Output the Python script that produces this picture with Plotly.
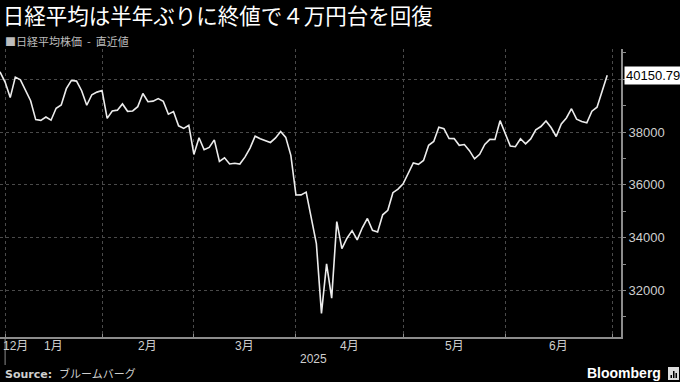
import plotly.graph_objects as go

# ---- data: Nikkei 225 closes (trading days) ----
dates = [
    "2024-12-27", "2024-12-30",
    "2025-01-06", "2025-01-07", "2025-01-08", "2025-01-09", "2025-01-10", "2025-01-14", "2025-01-15",
    "2025-01-16", "2025-01-17", "2025-01-20", "2025-01-21", "2025-01-22", "2025-01-23", "2025-01-24",
    "2025-01-27", "2025-01-28", "2025-01-29", "2025-01-30", "2025-01-31",
    "2025-02-03", "2025-02-04", "2025-02-05", "2025-02-06", "2025-02-07", "2025-02-10", "2025-02-12",
    "2025-02-13", "2025-02-14", "2025-02-17", "2025-02-18", "2025-02-19", "2025-02-20", "2025-02-21",
    "2025-02-25", "2025-02-26", "2025-02-27", "2025-02-28",
    "2025-03-03", "2025-03-04", "2025-03-05", "2025-03-06", "2025-03-07", "2025-03-10", "2025-03-11",
    "2025-03-12", "2025-03-13", "2025-03-14", "2025-03-17", "2025-03-18", "2025-03-19", "2025-03-21",
    "2025-03-24", "2025-03-25", "2025-03-26", "2025-03-27", "2025-03-28", "2025-03-31",
    "2025-04-01", "2025-04-02", "2025-04-03", "2025-04-04", "2025-04-07", "2025-04-08", "2025-04-09",
    "2025-04-10", "2025-04-11", "2025-04-14", "2025-04-15", "2025-04-16", "2025-04-17", "2025-04-18",
    "2025-04-21", "2025-04-22", "2025-04-23", "2025-04-24", "2025-04-25", "2025-04-28", "2025-04-30",
    "2025-05-01", "2025-05-02", "2025-05-07", "2025-05-08", "2025-05-09", "2025-05-12", "2025-05-13",
    "2025-05-14", "2025-05-15", "2025-05-16", "2025-05-19", "2025-05-20", "2025-05-21", "2025-05-22",
    "2025-05-23", "2025-05-26", "2025-05-27", "2025-05-28", "2025-05-29", "2025-05-30",
    "2025-06-02", "2025-06-03", "2025-06-04", "2025-06-05", "2025-06-06", "2025-06-09", "2025-06-10",
    "2025-06-11", "2025-06-12", "2025-06-13", "2025-06-16", "2025-06-17", "2025-06-18", "2025-06-19",
    "2025-06-20", "2025-06-23", "2025-06-24", "2025-06-25", "2025-06-26", "2025-06-27",
]
nikkei = [
    40281, 39895,
    39307, 40083, 39981, 39605, 39190, 38474, 38445,
    38573, 38451, 38903, 39028, 39646, 39959, 39932,
    39566, 39017, 39415, 39514, 39572,
    38520, 38798, 38831, 39067, 38787, 38801, 38964,
    39461, 39149, 39174, 39270, 39165, 38678, 38777,
    38238, 38142, 38256, 37156,
    37785, 37331, 37418, 37705, 36887, 37028, 36793,
    36819, 36790, 37053, 37397, 37845, 37752, 37677,
    37608, 37781, 38027, 37800, 37120, 35618,
    35624, 35726, 34736, 33781, 31137, 33013, 31714,
    34609, 33586, 33982, 34268, 33920, 34378, 34730,
    34280, 34221, 34869, 35039, 35706, 35840, 36045,
    36452, 36831, 36780, 36929, 37503, 37644, 38183,
    38128, 37756, 37754, 37499, 37529, 37299, 36986,
    37160, 37532, 37724, 37722, 38433, 37965,
    37471, 37447, 37747, 37554, 37742, 38089, 38212,
    38421, 38173, 37834, 38311, 38537, 38885, 38488,
    38403, 38354, 38791, 38942, 39585, 40150.79,
]
last_label = "40150.79"
# month-end gridline sessions (last trading day of each month; Jun 30 is the next session)
month_end_sessions = ["2024-12-30", "2025-01-31", "2025-02-28", "2025-03-31",
                      "2025-04-30", "2025-05-30", "2025-06-30"]
month_labels = ["1月", "2月", "3月", "4月", "5月", "6月"]
first_month_label = "12月"
year_label = "2025"
y_ticks = [32000, 34000, 36000, 38000, 40000]
y_ticktext = ["32000", "34000", "36000", "38000", ""]   # 40000 sits under the last-value label
y_minor = [31000, 33000, 35000, 37000, 39000, 41000]

title_text = "日経平均は半年ぶりに終値で４万円台を回復"
legend_text = "■日経平均株価  -  直近値"
source_text = "<b>Source:</b>  ブルームバーグ"

# ---- layout geometry ----
W, H = 680, 382
ML, MR, MT, MB = 0, 59, 49, 45
PW, PH = W - ML - MR, H - MT - MB
X_MAX = 121.7
Y_RANGE = [30241, 41147]

idx = list(range(len(dates)))
def session_index(d):
    return dates.index(d) if d in dates else len(dates)
grid_idx = [session_index(d) for d in month_end_sessions]

GRID = "#4a4a4a"
AXIS = "#8c8c8c"
TXT = "#cfcfcf"
FONT = "Liberation Sans, Noto Sans CJK JP, sans-serif"

fig = go.Figure()
fig.add_trace(go.Scatter(x=idx, y=nikkei, mode="lines",
                         line=dict(color="#ececec", width=1.6), hoverinfo="skip",
                         showlegend=False))

fig.update_layout(
    width=W, height=H, margin=dict(l=ML, r=MR, t=MT, b=MB),
    paper_bgcolor="black", plot_bgcolor="black",
    font=dict(family=FONT, color=TXT, size=12),
    title=dict(text=title_text, x=0.004, xanchor="left", y=1 - 16 / H, yanchor="middle",
               font=dict(family="Noto Sans CJK JP", size=21.5, color="white")),
    xaxis=dict(range=[0, X_MAX], tickvals=grid_idx, ticktext=[""] * len(grid_idx),
               showgrid=True, gridcolor=GRID, griddash="dot", gridwidth=1,
               showline=True, linecolor=AXIS, linewidth=2,
               ticks="inside", ticklen=3, tickcolor=AXIS, zeroline=False, fixedrange=True),
    yaxis=dict(range=Y_RANGE, side="right", tickvals=y_ticks, ticktext=y_ticktext,
               showgrid=True, gridcolor=GRID, griddash="dot", gridwidth=1,
               showline=True, linecolor=AXIS, linewidth=2,
               ticks="outside", ticklen=3, tickcolor=AXIS,
               minor=dict(tickvals=y_minor, ticks="outside", ticklen=3, tickcolor=AXIS, showgrid=False),
               tickfont=dict(size=13, color=TXT, family=FONT),
               zeroline=False, fixedrange=True),
)

def py(p):
    """pixel y (from top) -> paper y"""
    return (H - MB - p) / PH

ann = []
# month labels, centred between month-end gridlines
for i, lab in enumerate(month_labels):
    ann.append(dict(x=(grid_idx[i] + grid_idx[i + 1]) / 2, xref="x", y=py(346), yref="paper",
                    text=lab, showarrow=False, xanchor="center", yanchor="middle",
                    font=dict(size=12, color=TXT)))
ann.append(dict(x=0, xref="x", y=py(346), yref="paper", text=first_month_label, showarrow=False,
                xanchor="left", yanchor="middle", xshift=1, font=dict(size=12, color=TXT)))
ann.append(dict(x=(grid_idx[0] + X_MAX) / 2, xref="x", y=py(359), yref="paper", text=year_label,
                showarrow=False, xanchor="center", yanchor="middle", font=dict(size=12, color=TXT)))
# legend line
ann.append(dict(x=3 / PW, xref="paper", y=py(41), yref="paper", text=legend_text, showarrow=False,
                xanchor="left", yanchor="middle",
                font=dict(family="Noto Sans CJK JP", size=11, color="#bdbdbd")))
# source
ann.append(dict(x=3 / PW, xref="paper", y=py(374), yref="paper", text=source_text, showarrow=False,
                xanchor="left", yanchor="middle",
                font=dict(family="DejaVu Sans, Noto Sans CJK JP", size=11, color=TXT)))
# Bloomberg wordmark
ann.append(dict(x=663 / PW, xref="paper", y=py(373), yref="paper", text="<b>Bloomberg</b>",
                showarrow=False, xanchor="right", yanchor="middle",
                font=dict(family="Liberation Sans", size=14, color="white")))
# last value label
ann.append(dict(x=1, xref="paper", y=nikkei[-1], yref="y", text=last_label, showarrow=False,
                xanchor="left", yanchor="middle", xshift=3, bgcolor="white", borderpad=1,
                font=dict(family=FONT, size=13, color="black")))
fig.update_layout(annotations=ann)

shapes = []
# year-boundary tick below the axis
shapes.append(dict(type="line", xref="x", yref="paper", x0=grid_idx[0], x1=grid_idx[0],
                   y0=0, y1=py(365), line=dict(color=AXIS, width=1)))
# Bloomberg icon
shapes.append(dict(type="rect", xref="paper", yref="paper", x0=668 / PW, x1=679 / PW,
                   y0=py(380), y1=py(367), fillcolor="#dddddd", line=dict(width=0)))
for bx, top in [(670.5, 375), (673, 371), (675.5, 373)]:
    shapes.append(dict(type="rect", xref="paper", yref="paper", x0=bx / PW, x1=(bx + 1.5) / PW,
                       y0=py(378), y1=py(top), fillcolor="black", line=dict(width=0)))
fig.update_layout(shapes=shapes)

fig.write_html("out.html")
